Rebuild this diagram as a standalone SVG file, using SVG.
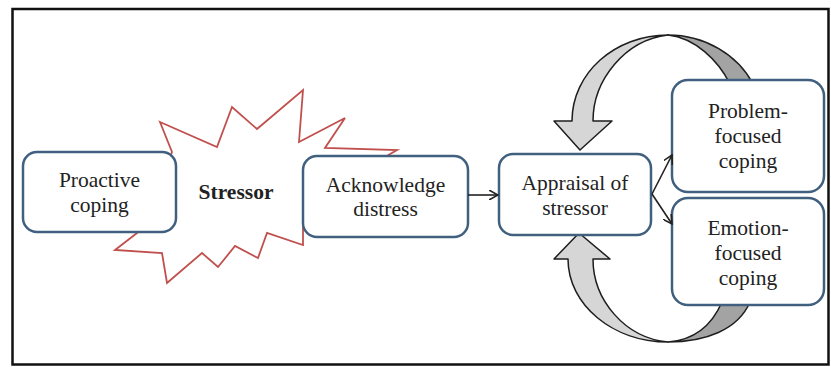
<svg xmlns="http://www.w3.org/2000/svg" width="831" height="367" viewBox="0 0 831 367">
<defs>
<style>
.box{fill:#fff;stroke:#41607f;stroke-width:2.5}
.t{font-family:"Liberation Serif","Times New Roman",serif;font-size:21.5px;fill:#222;text-anchor:middle}
.b{font-weight:bold}
.con{fill:none;stroke:#222;stroke-width:1.6}
.light{fill:#d6d6d6;stroke:#1e1e1e;stroke-width:1.5;stroke-linejoin:round}
.dark{fill:#a3a3a3;stroke:#1e1e1e;stroke-width:1.5;stroke-linejoin:round}
</style>
<marker id="ah" viewBox="0 0 10 10" refX="9" refY="5" markerWidth="10" markerHeight="10" markerUnits="userSpaceOnUse" orient="auto">
<path d="M0,0 L9,5 L0,10" fill="none" stroke="#222" stroke-width="1.6"/>
</marker>
</defs>
<rect x="0" y="0" width="831" height="367" fill="#fff"/>
<rect x="12.5" y="9" width="816" height="355.5" fill="#fff" stroke="#111" stroke-width="2.5"/>

<g id="cycle-arrows">
<path class="dark" d="M668,35 C705,35 738,55 753,84 L730,84 C718,60 695,38 668,35 Z"/>
<path class="light" d="M668,35 C615,35 572,73 572,121 L554,121 L580,150 L612,121 L593,121 C593,80 625,40 668,35 Z"/>
<path class="dark" d="M668,342 C705,342 738,330 750,302 L722,302 C712,325 695,340 668,342 Z"/>
<path class="light" d="M668,342 C613,342 568,305 568,259 L554,259 L579,233 L610,259 L593,259 C593,300 625,338 668,342 Z"/>
</g>

<g id="stressor">
<polygon points="160,122 217,147 232,107 257,129 303,90 299,142 345,118 325,148 397,150 385,157 340,180 303,205 303,245 267,233 258,258 235,246 218,267 202,253 167,283 162,253 115,250 137,233 160,210 165,170 172,152" fill="#fff" stroke="#c0504d" stroke-width="1.8" stroke-linejoin="miter"/>
<text class="t b" x="236" y="199">Stressor</text>
</g>

<g id="proactive">
<rect class="box" x="23" y="152" width="153" height="80" rx="14"/>
<text class="t" x="99.5" y="187">Proactive</text>
<text class="t" x="99.5" y="212">coping</text>
</g>

<g id="acknowledge">
<rect class="box" x="303" y="156" width="165" height="81" rx="14"/>
<text class="t" x="385.5" y="192">Acknowledge</text>
<text class="t" x="385.5" y="216">distress</text>
</g>

<g id="appraisal">
<rect class="box" x="499" y="154" width="152" height="81" rx="14"/>
<text class="t" x="575" y="190">Appraisal of</text>
<text class="t" x="575" y="215">stressor</text>
</g>

<g id="problem">
<rect class="box" x="672" y="80" width="152" height="112" rx="16"/>
<text class="t" x="748" y="118">Problem-</text>
<text class="t" x="748" y="143">focused</text>
<text class="t" x="748" y="168">coping</text>
</g>

<g id="emotion">
<rect class="box" x="672" y="198" width="152" height="107" rx="16"/>
<text class="t" x="748" y="235">Emotion-</text>
<text class="t" x="748" y="260">focused</text>
<text class="t" x="748" y="285">coping</text>
</g>

<g id="connectors">
<line class="con" x1="468" y1="195" x2="498" y2="195" marker-end="url(#ah)"/>
<line class="con" x1="652" y1="194" x2="672" y2="155" marker-end="url(#ah)"/>
<line class="con" x1="652" y1="194" x2="672" y2="224" marker-end="url(#ah)"/>
</g>
</svg>
